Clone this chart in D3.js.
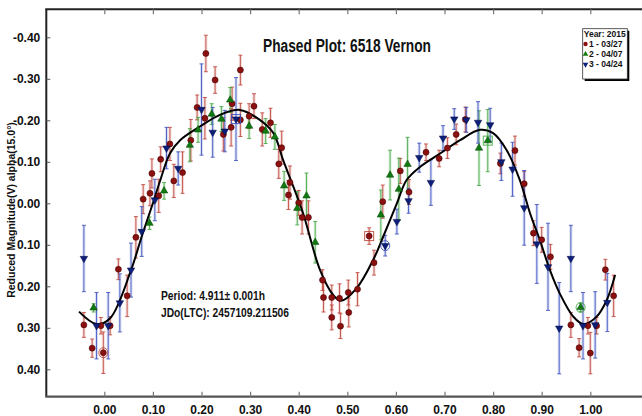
<!DOCTYPE html>
<html>
<head>
<meta charset="utf-8">
<script src="https://cdn.jsdelivr.net/npm/d3@7"></script>
<style>
  html, body { margin: 0; padding: 0; background: #fff; }
  svg { display: block; }
  .narrow { font-family: "Liberation Sans Narrow", "Arial Narrow", "Liberation Sans", Arial, sans-serif; font-weight: bold; }
</style>
</head>
<body>
<svg id="chart" width="642" height="416"></svg>
<script>
// ---------------- DATA ----------------
const title = "Phased Plot: 6518 Vernon";
const yAxisLabel = "Reduced Magnitude(V) alpha(15.0\u00b0)";
const periodText = "Period: 4.911\u00b1 0.001h";
const epochText = "JDo(LTC): 2457109.211506";
const legendTitle = "Year: 2015";
const seriesNames = ["1 - 03/27", "2 - 04/07", "3 - 04/24"];

const xTickValues = [0, 0.1, 0.2, 0.3, 0.4, 0.5, 0.6, 0.7, 0.8, 0.9, 1.0];
const xTickLabels = ["0.00","0.10","0.20","0.30","0.40","0.50","0.60","0.70","0.80","0.90","1.00"];
const yTickValues = [-0.4, -0.3, -0.2, -0.1, 0, 0.1, 0.2, 0.3, 0.4];
const yTickLabels = ["-0.40","-0.30","-0.20","-0.10","0.00","0.10","0.20","0.30","0.40"];

// [phase, reduced magnitude, error]
const series1 = [
  [-0.042,0.293,0.030],[-0.025,0.349,0.022],[-0.007,0.295,0.020],[-0.002,0.360,0.050],
  [0.012,0.295,0.022],[0.029,0.159,0.025],[0.047,0.223,0.050],[0.065,0.082,0.050],
  [0.080,-0.010,0.035],[0.094,-0.024,0.030],[0.098,-0.072,0.035],[0.112,-0.018,0.040],
  [0.116,-0.106,0.030],[0.135,-0.143,0.040],[0.143,-0.054,0.040],[0.161,-0.074,0.050],
  [0.178,-0.152,0.050],[0.191,-0.231,0.030],[0.207,-0.205,0.050],[0.209,-0.361,0.044],
  [0.228,-0.297,0.032],[0.245,-0.166,0.040],[0.261,-0.183,0.045],[0.263,-0.240,0.040],
  [0.280,-0.321,0.036],[0.280,-0.201,0.040],[0.298,-0.210,0.030],[0.308,-0.234,0.030],
  [0.325,-0.178,0.040],[0.342,-0.194,0.035],[0.359,-0.095,0.035],[0.365,-0.134,0.040],
  [0.379,-0.020,0.035],[0.382,-0.050,0.040],[0.400,-0.001,0.030],[0.407,0.034,0.040],
  [0.420,0.034,0.040],[0.449,0.185,0.025],[0.451,0.227,0.035],[0.468,0.275,0.030],
  [0.468,0.227,0.030],[0.484,0.229,0.035],[0.486,0.296,0.030],[0.502,0.215,0.030],
  [0.503,0.263,0.035],[0.521,0.207,0.040],[0.545,0.079,0.020],[0.555,0.143,0.030],
  [0.573,-0.004,0.040],[0.609,-0.078,0.030],[0.627,-0.027,0.030],[0.662,-0.123,0.020],
  [0.689,-0.108,0.020],[0.706,-0.133,0.025],[0.724,-0.166,0.025],[0.743,-0.202,0.030],
  [0.815,-0.096,0.025],[0.845,-0.127,0.035],[0.864,-0.047,0.030],[0.883,0.072,0.030],
  [0.900,0.088,0.030],[0.918,0.129,0.030],[0.960,0.293,0.030],[0.977,0.348,0.022],
  [0.995,0.295,0.020],[1.000,0.361,0.050],[1.013,0.295,0.020],[1.031,0.160,0.025],
  [1.048,0.223,0.050]
];
const series2 = [
  [-0.022,0.252,0.010],[0.093,0.048,0.015],[0.123,-0.030,0.020],[0.176,-0.140,0.040],
  [0.193,-0.177,0.030],[0.221,-0.215,0.025],[0.241,-0.203,0.030],[0.259,-0.249,0.030],
  [0.298,-0.186,0.030],[0.332,-0.174,0.030],[0.351,-0.160,0.030],[0.370,-0.042,0.035],
  [0.397,0.012,0.040],[0.416,-0.018,0.055],[0.434,0.094,0.050],[0.569,0.028,0.060],
  [0.588,-0.068,0.060],[0.606,-0.034,0.075],[0.624,-0.094,0.065],[0.771,-0.133,0.090],
  [0.789,-0.151,0.075],[0.980,0.251,0.010]
];
const series3 = [
  [-0.042,0.133,0.080],[-0.016,0.295,0.080],[0.008,0.295,0.080],[0.032,0.240,0.070],
  [0.055,0.161,0.065],[0.077,0.068,0.060],[0.104,-0.008,0.050],[0.128,-0.133,0.050],
  [0.152,-0.084,0.040],[0.200,-0.226,0.110],[0.223,-0.171,0.060],[0.248,-0.174,0.050],
  [0.271,-0.203,0.100],[0.578,0.102,0.025],[0.602,0.044,0.030],[0.626,-0.006,0.030],
  [0.648,-0.110,0.035],[0.672,-0.050,0.055],[0.697,-0.157,0.030],[0.720,-0.203,0.025],
  [0.745,-0.201,0.030],[0.769,-0.195,0.050],[0.794,-0.189,0.040],[0.817,-0.100,0.045],
  [0.840,-0.082,0.065],[0.864,0.011,0.090],[0.890,0.098,0.095],[0.913,0.153,0.105],
  [0.936,0.301,0.110],[0.960,0.133,0.080],[0.985,0.295,0.080],[1.010,0.293,0.080],
  [1.035,0.239,0.070]
];
// highlighted points: [seriesIndex, phase, mag, shape]
const highlights = [
  [0,-0.002,0.360,"circle"],[2,0.271,-0.203,"square"],[0,0.545,0.079,"square"],
  [2,0.578,0.102,"circle"],[1,0.789,-0.151,"square"],[1,0.980,0.251,"circle"]
];
// Fourier fit curve: [phase, mag]
const fitPhase = [-0.052,-0.016,0.012,0.055,0.077,0.100,0.115,0.135,0.156,0.197,0.238,0.279,0.320,0.348,0.368,0.389,0.409,0.444,0.471,0.487,0.519,0.553,0.574,0.602,0.622,0.650,0.691,0.732,0.773,0.800,0.828,0.855,0.876,0.896,0.917,0.937,0.965,0.986,1.013,1.034,1.051];
const fitMag   = [0.261,0.291,0.277,0.161,0.080,0.000,-0.055,-0.120,-0.152,-0.185,-0.213,-0.225,-0.201,-0.169,-0.104,-0.040,0.024,0.161,0.221,0.235,0.205,0.137,0.080,0.000,-0.056,-0.088,-0.120,-0.152,-0.177,-0.169,-0.128,-0.056,0.024,0.088,0.161,0.217,0.273,0.291,0.273,0.233,0.173];

// ---------------- STYLE ----------------
const markerFill = ["#8b1010", "#127a12", "#0c1f7a"];
const markerStroke = ["#4a0000", "#004400", "#000840"];
const barColor = ["#c0463c", "#45a845", "#3c52c0"];

// ---------------- CHART ----------------
const svg = d3.select("#chart");
const plotLeft = 46.3, plotTop = 9.3, plotBottom = 396.7, plotRight = 642;

const x = d3.scaleLinear().domain([0, 1]).range([104.3, 590.3]);
const y = d3.scaleLinear().domain([-0.4, 0.4]).range([37.3, 369.3]);

// frame
const frame = svg.append("g");
frame.append("line").attr("x1", plotLeft).attr("x2", plotLeft).attr("y1", plotTop).attr("y2", plotBottom)
  .attr("stroke", "#222").attr("stroke-width", 2);
frame.append("line").attr("x1", plotLeft - 1).attr("x2", plotRight).attr("y1", plotTop).attr("y2", plotTop)
  .attr("stroke", "#222").attr("stroke-width", 2);
frame.append("line").attr("x1", plotLeft - 1).attr("x2", plotRight).attr("y1", plotBottom).attr("y2", plotBottom)
  .attr("stroke", "#555").attr("stroke-width", 2.2);

// axes
const xAxis = d3.axisBottom(x).tickValues(xTickValues)
  .tickFormat((d, i) => xTickLabels[i]).tickSizeInner(-5).tickSizeOuter(0).tickPadding(9);
const gx = svg.append("g").attr("transform", `translate(0,${plotBottom})`).call(xAxis);
gx.select(".domain").remove();
gx.selectAll("line").attr("stroke", "#777").attr("stroke-width", 1.2);
gx.selectAll("text").attr("class", "narrow").attr("font-size", 12).attr("fill", "#111");

const xTop = d3.axisTop(x).tickValues(xTickValues).tickFormat("").tickSizeInner(-5).tickSizeOuter(0);
const gxt = svg.append("g").attr("transform", `translate(0,${plotTop})`).call(xTop);
gxt.select(".domain").remove();
gxt.selectAll("line").attr("stroke", "#777").attr("stroke-width", 1.2);

const yAxis = d3.axisLeft(y).tickValues(yTickValues)
  .tickFormat((d, i) => yTickLabels[i]).tickSizeInner(-4).tickSizeOuter(0).tickPadding(6);
const gy = svg.append("g").attr("transform", `translate(${plotLeft},0)`).call(yAxis);
gy.select(".domain").remove();
gy.selectAll("line").attr("stroke", "#555").attr("stroke-width", 1);
gy.selectAll("text").attr("class", "narrow").attr("font-size", 12).attr("fill", "#111");

// y label
svg.append("text")
  .attr("transform", `translate(15,210) rotate(-90)`)
  .attr("text-anchor", "middle")
  .attr("font-family", "'Liberation Sans', Arial, sans-serif")
  .attr("font-weight", "bold").attr("font-size", 10.5).attr("fill", "#111")
  .text(yAxisLabel);

// title
svg.append("text").attr("class", "narrow")
  .attr("x", 263).attr("y", 52).attr("font-size", 18).attr("fill", "#111")
  .attr("textLength", 168).attr("lengthAdjust", "spacingAndGlyphs")
  .text(title);

// annotations
svg.append("text").attr("class", "narrow").attr("x", 161).attr("y", 300)
  .attr("font-size", 13.5).attr("fill", "#111")
  .attr("textLength", 104).attr("lengthAdjust", "spacingAndGlyphs").text(periodText);
svg.append("text").attr("class", "narrow").attr("x", 161).attr("y", 317.3)
  .attr("font-size", 13.5).attr("fill", "#111")
  .attr("textLength", 128).attr("lengthAdjust", "spacingAndGlyphs").text(epochText);

// error bars + markers
const allSeries = [series1, series2, series3];
const plotArea = svg.append("g");

allSeries.forEach((data, si) => {
  const g = plotArea.append("g");
  const bars = g.selectAll("g.bar").data(data).enter().append("g");
  bars.append("line")
    .attr("x1", d => x(d[0])).attr("x2", d => x(d[0]))
    .attr("y1", d => y(d[1] - d[2])).attr("y2", d => y(d[1] + d[2]))
    .attr("stroke", barColor[si]).attr("stroke-width", 3).attr("opacity", 0.18);
  bars.append("line")
    .attr("x1", d => x(d[0])).attr("x2", d => x(d[0]))
    .attr("y1", d => y(d[1] - d[2])).attr("y2", d => y(d[1] + d[2]))
    .attr("stroke", barColor[si]).attr("stroke-width", 1).attr("opacity", 0.85);
  [-1, 1].forEach(s => {
    bars.append("line")
      .attr("x1", d => x(d[0]) - 2).attr("x2", d => x(d[0]) + 2)
      .attr("y1", d => y(d[1] + s * d[2])).attr("y2", d => y(d[1] + s * d[2]))
      .attr("stroke", barColor[si]).attr("stroke-width", 1).attr("opacity", 0.85);
  });
});

// fit curve
const fitPts = fitPhase.map((p, i) => [p, fitMag[i]]);
plotArea.append("path").datum(fitPts)
  .attr("d", d3.line().x(d => x(d[0])).y(d => y(d[1])).curve(d3.curveCatmullRom.alpha(0.5)))
  .attr("fill", "none").attr("stroke", "#000").attr("stroke-width", 2);

// markers
const triSym = d3.symbol().type(d3.symbolTriangle).size(24);
allSeries.forEach((data, si) => {
  const g = plotArea.append("g");
  if (si === 0) {
    g.selectAll("circle").data(data).enter().append("circle")
      .attr("cx", d => x(d[0])).attr("cy", d => y(d[1])).attr("r", 3)
      .attr("fill", markerFill[si]).attr("stroke", markerStroke[si]).attr("stroke-width", 0.6);
  } else {
    g.selectAll("path").data(data).enter().append("path")
      .attr("d", triSym)
      .attr("transform", d => `translate(${x(d[0])},${y(d[1])})${si === 2 ? " rotate(180)" : ""}`)
      .attr("fill", markerFill[si]).attr("stroke", markerStroke[si]).attr("stroke-width", 0.5);
  }
});

// highlight marks
highlights.forEach(h => {
  const [si, p, m, shape] = h;
  if (shape === "circle") {
    plotArea.append("ellipse").attr("cx", x(p)).attr("cy", y(m)).attr("rx", 4.5).attr("ry", 5)
      .attr("fill", "none").attr("stroke", barColor[si]).attr("stroke-width", 1).attr("opacity", 0.9);
  } else {
    plotArea.append("rect").attr("x", x(p) - 4.5).attr("y", y(m) - 4.5).attr("width", 9).attr("height", 9)
      .attr("fill", "none").attr("stroke", barColor[si]).attr("stroke-width", 1).attr("opacity", 0.9);
  }
});

// legend
const lg = svg.append("g");
const lx = 582.7, ly = 28.7, lw = 44.6, lh = 50.3;
lg.append("rect").attr("x", lx + 2).attr("y", ly + 2).attr("width", lw).attr("height", lh).attr("fill", "#000");
lg.append("rect").attr("x", lx).attr("y", ly).attr("width", lw).attr("height", lh)
  .attr("fill", "#fff").attr("stroke", "#333").attr("stroke-width", 0.8);
lg.append("text").attr("class", "narrow").attr("x", lx + lw - 1.5).attr("y", 36.7)
  .attr("text-anchor", "end").attr("font-size", 8.5).attr("fill", "#111").text(legendTitle);
seriesNames.forEach((name, i) => {
  const yy = 47 + i * 10.2;
  if (i === 0) {
    lg.append("circle").attr("cx", 585.5).attr("cy", yy - 3).attr("r", 2.2).attr("fill", markerFill[0]);
  } else {
    lg.append("path").attr("d", d3.symbol().type(d3.symbolTriangle).size(14))
      .attr("transform", `translate(585.5,${yy - 3})${i === 2 ? " rotate(180)" : ""}`)
      .attr("fill", markerFill[i]);
  }
  lg.append("text").attr("class", "narrow").attr("x", 589).attr("y", yy)
    .attr("font-size", 8.5).attr("fill", "#111").text(name);
});
</script>
</body>
</html>
